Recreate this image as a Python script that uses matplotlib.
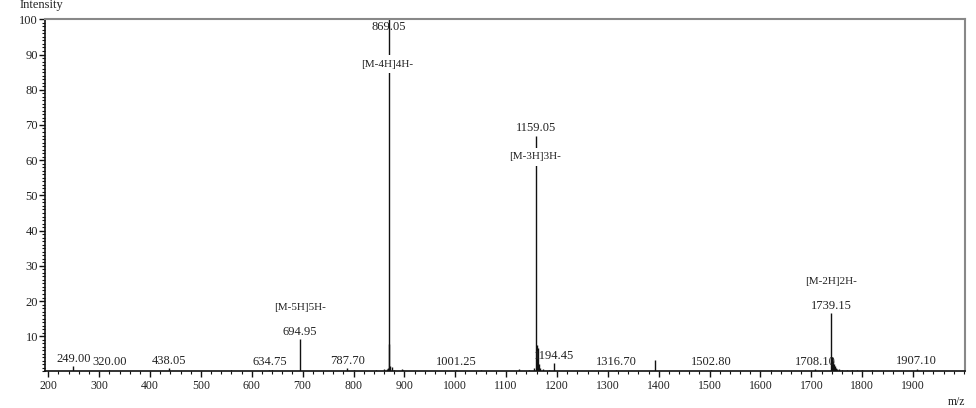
import numpy as np
import matplotlib.pyplot as plt
from matplotlib.ticker import MultipleLocator, FixedLocator

plt.rcParams['font.family'] = ['Liberation Serif', 'DejaVu Serif']

# peak list (m/z, relative intensity %)
mz = [249.00, 320.00, 438.05, 560.0, 634.75, 640.0, 694.95, 787.70, 800.0,
      845.0, 860.0, 865.0, 867.0, 869.05, 870.3, 872.0, 875.0, 880.0, 895.0, 898.0,
      1001.25, 1050.0, 1125.0, 1145.0, 1155.0, 1159.05, 1160.4, 1162.0, 1164.0,
      1167.0, 1172.0, 1185.0, 1194.45, 1316.70, 1393.0, 1502.80, 1620.0, 1708.10,
      1739.15, 1740.2, 1741.0, 1742.0, 1744.0, 1746.0, 1748.0, 1750.0, 1755.0,
      1760.0, 1770.0, 1780.0, 1790.0, 1800.0, 1820.0, 1907.10]
intensity = [1.5, 0.3, 0.9, 0.3, 0.3, 0.4, 9.1, 1.0, 0.4,
             0.5, 0.6, 0.8, 1.0, 100.0, 7.7, 1.5, 1.2, 0.5, 0.6, 0.5,
             0.4, 0.3, 0.6, 0.5, 1.0, 67.0, 7.5, 6.6, 2.0,
             1.0, 0.6, 0.5, 2.4, 0.4, 3.2, 0.5, 0.3, 0.6,
             16.5, 4.0, 3.5, 3.0, 2.0, 1.5, 1.0, 0.8, 0.6,
             0.5, 0.4, 0.4, 0.3, 0.4, 0.3, 0.8]

# labelled peaks
label_mz = [249.00, 320.00, 438.05, 634.75, 694.95, 787.70, 869.05, 1001.25,
            1159.05, 1194.45, 1316.70, 1502.80, 1708.10, 1739.15, 1907.10]
label_text = ['249.00', '320.00', '438.05', '634.75', '694.95', '787.70', '869.05',
              '1001.25', '1159.05', '1194.45', '1316.70', '1502.80', '1708.10',
              '1739.15', '1907.10']
ion_mz = [694.95, 869.05, 1159.05, 1739.15]
ion_text = ['[M-5H]5H-', '[M-4H]4H-', '[M-3H]3H-', '[M-2H]2H-']

fig = plt.figure(figsize=(9.76, 4.08), dpi=100)
ax = fig.add_axes([0.0461, 0.0895, 0.9426, 0.8632])

ax.vlines(mz, 0, intensity, color='#111111', linewidth=1.0)

peak_of = dict(zip(mz, intensity))
for m, t in zip(label_mz, label_text):
    h = peak_of[m]
    if h >= 100:
        ax.annotate(t, (m, 100), xytext=(0, -1), textcoords='offset points',
                    ha='center', va='top', fontsize=9, color='#222222')
    else:
        ax.annotate(t, (m, max(h, 0.6)), xytext=(0, 1), textcoords='offset points',
                    ha='center', va='bottom', fontsize=9, color='#222222')

for m, t in zip(ion_mz, ion_text):
    h = min(peak_of[m], 100)
    if h > 50:
        off = -29 if h >= 100 else -12
        ax.annotate(t, (m, h), xytext=(-1, off), textcoords='offset points',
                    ha='center', va='top', fontsize=8, color='#222222',
                    bbox=dict(boxstyle='square,pad=0.4', fc='white', ec='none'))
    else:
        ax.annotate(t, (m, h), xytext=(0, 20), textcoords='offset points',
                    ha='center', va='bottom', fontsize=8, color='#222222')

ax.set_xlim(193.5, 2002)
ax.set_ylim(0, 100)

ax.xaxis.set_major_locator(FixedLocator(np.arange(200, 2000, 100)))
ax.xaxis.set_minor_locator(MultipleLocator(20))
ax.yaxis.set_major_locator(FixedLocator(np.arange(10, 101, 10)))
ax.yaxis.set_minor_locator(MultipleLocator(1))
ax.tick_params(axis='both', which='major', direction='out', length=4, width=1,
               color='#111111', labelcolor='#222222', pad=2)
ax.tick_params(axis='both', which='minor', direction='out', length=2, width=0.8,
               color='#111111')
ax.tick_params(axis='x', labelsize=8.5)
ax.tick_params(axis='y', labelsize=9, pad=1)

for side in ['top', 'right']:
    ax.spines[side].set_color('#888888')
    ax.spines[side].set_linewidth(1.5)
for side in ['left', 'bottom']:
    ax.spines[side].set_color('#111111')
    ax.spines[side].set_linewidth(1.2)

fig.text(20 / 976, 1 - 5 / 408, 'Intensity', ha='left', va='center',
         fontsize=9, color='#222222')
fig.text(957 / 976, 1 - 402 / 408, 'm/z', ha='center', va='center',
         fontsize=8.5, color='#222222')

plt.savefig('out.png', dpi=100)
